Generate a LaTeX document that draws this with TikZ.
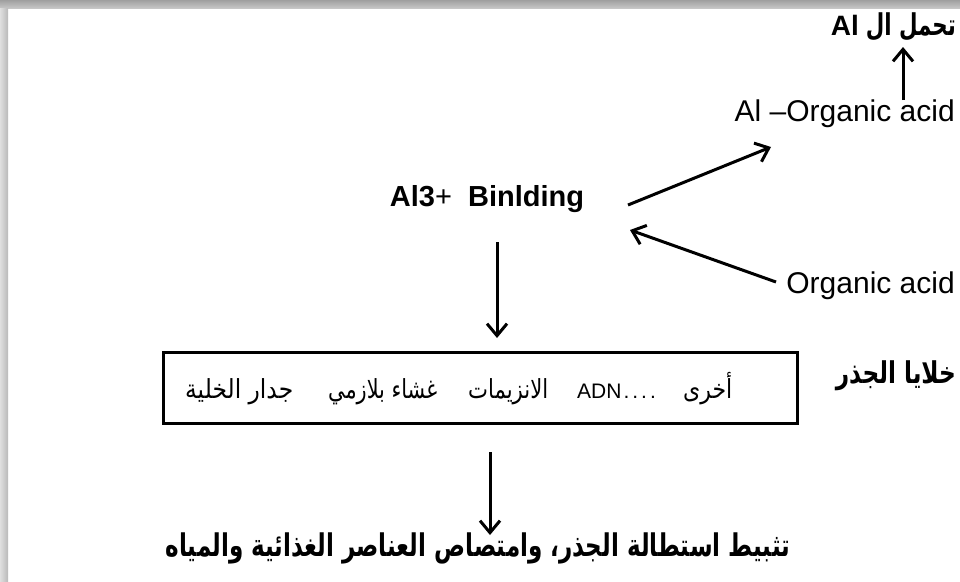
\documentclass[tikz,border=0pt]{standalone}
\usepackage{fontspec}
\usepackage{graphicx}
\setmainfont{Liberation Sans}
\newfontfamily\ar[Script=Arabic]{DejaVu Sans}
\TeXXeTstate=1
\usetikzlibrary{arrows.meta}
\tikzset{
  txt/.style={inner sep=0pt, font=\fontsize{30}{34}\selectfont},
  bigar/.style={inner sep=0pt, font=\fontsize{25}{30}\selectfont\ar\bfseries},
  smallar/.style={inner sep=0pt, font=\fontsize{21}{24}\selectfont\ar},
  arr/.style={line width=3pt, -{Straight Barb[length=12pt,width=20pt,line width=3pt]}},
  cellbox/.style={draw, line width=3pt, minimum width=634pt, minimum height=71pt, inner sep=0pt}
}
\begin{document}
\begin{tikzpicture}[x=1pt,y=-1pt]
\useasboundingbox (0,0) rectangle (960,581);
% shadow frame
\shade[top color=gray!75, bottom color=gray!45] (0,0) rectangle (960,8);
\shade[left color=gray!25, right color=gray!55] (0,8) rectangle (8,581);

% top label
\node[bigar, anchor=base east] (tolar) at (956,35) {\resizebox{90pt}{1.2\height}{\beginR تحمل ال\endR}};
\node[txt, anchor=base east, font=\fontsize{28}{32}\selectfont\bfseries] (tolal) at (859,35) {Al};

\node[txt, anchor=base east] (alorg) at (955,121) {Al –Organic acid};
\node[txt, anchor=base, font=\fontsize{29}{33}\selectfont\bfseries] (bind) at (487,206) {Al3\textmd{+}\ \ Binlding};
\node[txt, anchor=base east] (orgacid) at (955,293) {Organic acid};

% box
\node[cellbox] (box) at (480,387.5) {};
\node[smallar, anchor=base west] (w1) at (185,398) {\resizebox{108pt}{1.25\height}{\beginR جدار الخلية\endR}};
\node[smallar, anchor=base west] (w2) at (328,398) {\resizebox{109pt}{1.25\height}{\beginR غشاء بلازمي\endR}};
\node[smallar, anchor=base west] (w3) at (468,398) {\resizebox{80pt}{1.25\height}{\beginR الانزيمات\endR}};
\node[txt, anchor=base west, font=\fontsize{21}{24}\selectfont] (w4) at (577,398) {ADN\hspace{2pt}.\hspace{3pt}.\hspace{3pt}.\hspace{3pt}.};
\node[smallar, anchor=base west] (w5) at (683,398) {\resizebox{49pt}{1.25\height}{\beginR أخرى\endR}};

\node[bigar, anchor=base east] (roots) at (956,383) {\resizebox{120pt}{1.2\height}{\beginR خلايا الجذر\endR}};

\node[bigar, anchor=base] (result) at (478,556) {\resizebox{625pt}{1.25\height}{\beginR تثبيط استطالة الجذر، وامتصاص العناصر الغذائية والمياه\endR}};

% arrows
\coordinate (c1) at (903,100);
\coordinate (c2) at (903,47);
\draw[arr] (c1) -- (c2);
\coordinate (d1) at (628,205);
\coordinate (d2) at (771,147);
\draw[arr] (d1) -- (d2);
\coordinate (e1) at (776,282);
\coordinate (e2) at (630,230);
\draw[arr] (e1) -- (e2);
\coordinate (f1) at (497,242);
\coordinate (f2) at (497,338);
\draw[arr] (f1) -- (f2);
\coordinate (g1) at (490,452);
\coordinate (g2) at (490,535);
\draw[arr] (g1) -- (g2);
\end{tikzpicture}
\end{document}
